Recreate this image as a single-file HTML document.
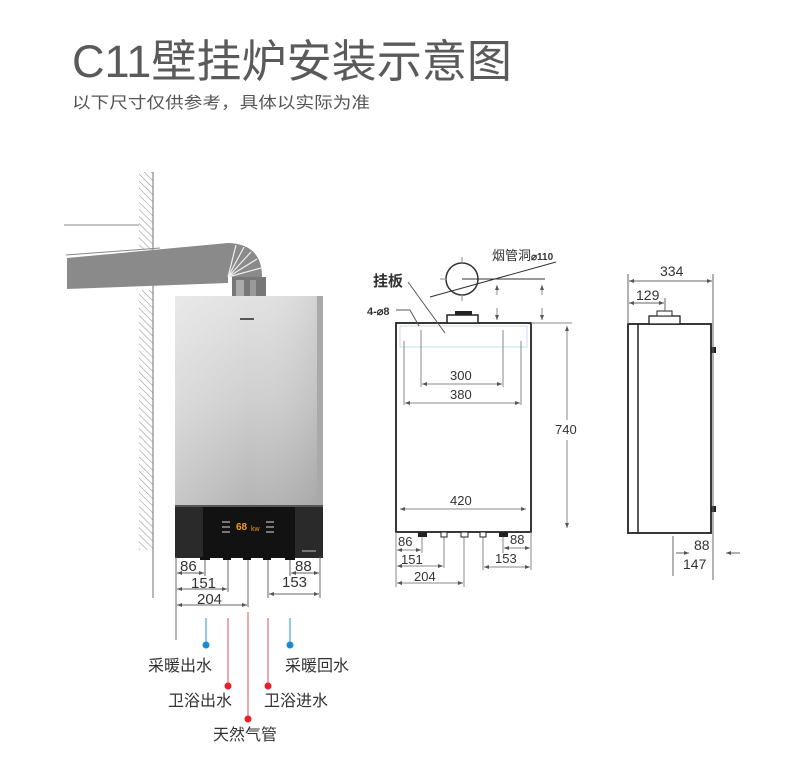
<!DOCTYPE html>
<html><head><meta charset="utf-8"><style>
html,body{margin:0;padding:0;background:#fff;}
svg{display:block;}
text{font-family:"Liberation Sans","Noto Sans CJK SC",sans-serif;}
</style></head><body>
<svg width="790" height="778" viewBox="0 0 790 778" xmlns="http://www.w3.org/2000/svg">
<defs>
<pattern id="hatch" width="5" height="5" patternUnits="userSpaceOnUse" patternTransform="rotate(-45)">
<line x1="0" y1="0" x2="0" y2="5" stroke="#999" stroke-width="1.2"/>
</pattern>
<linearGradient id="silver" x1="0" x2="0" y1="0" y2="1">
<stop offset="0" stop-color="#e2e2e2"/><stop offset="0.5" stop-color="#cfcfcf"/><stop offset="1" stop-color="#b4b4b4"/>
</linearGradient>
<linearGradient id="silverH" x1="0" x2="1" y1="0" y2="0">
<stop offset="0" stop-color="#fff" stop-opacity="0.25"/><stop offset="0.5" stop-color="#fff" stop-opacity="0"/><stop offset="1" stop-color="#000" stop-opacity="0.08"/>
</linearGradient>
<marker id="ah" viewBox="0 0 10 10" refX="10" refY="5" markerWidth="7" markerHeight="5" orient="auto-start-reverse" markerUnits="userSpaceOnUse">
<path d="M0,1 L10,5 L0,9 z" fill="#555"/>
</marker>
</defs>

<text x="72" y="77" font-size="45" fill="#5a5a5a" textLength="440" lengthAdjust="spacingAndGlyphs">C11壁挂炉安装示意图</text>
<text x="72" y="108" font-size="16" fill="#555" textLength="298" lengthAdjust="spacingAndGlyphs">以下尺寸仅供参考，具体以实际为准</text>

<rect x="139" y="172" width="14" height="78" fill="url(#hatch)"/>
<rect x="139" y="290" width="14" height="100" fill="url(#hatch)"/>
<rect x="139" y="390" width="14" height="160" fill="url(#hatch)"/>
<line x1="153" y1="172" x2="153" y2="598" stroke="#888" stroke-width="1.2"/>
<line x1="64" y1="225" x2="139" y2="225" stroke="#888" stroke-width="1"/>
<line x1="66" y1="255" x2="160" y2="248" stroke="#888" stroke-width="1"/>
<polygon points="67,258 228,243 228,283 67,289" fill="#8a8a8a"/>
<path d="M228,243 Q262,244 262,277 L228,277 Z" fill="#8a8a8a"/>
<g stroke="#eee" stroke-width="1.2">
<line x1="228" y1="277" x2="236" y2="245"/><line x1="228" y1="277" x2="244" y2="247"/>
<line x1="228" y1="277" x2="251" y2="252"/><line x1="228" y1="277" x2="257" y2="259"/>
<line x1="228" y1="277" x2="261" y2="268"/></g>
<rect x="232" y="277" width="34" height="20" fill="#777"/>
<rect x="236" y="280" width="8" height="16" fill="#aaa"/><rect x="250" y="280" width="6" height="16" fill="#999"/>

<rect x="175" y="296" width="148" height="212" fill="url(#silver)"/>
<rect x="175" y="296" width="148" height="212" fill="url(#silverH)"/>
<rect x="317" y="296" width="6" height="260" fill="#a9a9a9"/>
<rect x="240" y="318" width="14" height="2" fill="#555"/>
<rect x="175" y="505" width="148" height="53" fill="#2a2a2a"/>
<rect x="203" y="505" width="92" height="53" fill="#121212"/>
<rect x="175" y="505" width="148" height="2" fill="#555"/>
<text x="236" y="530" font-size="10" font-weight="bold" fill="#f39a1c">68</text>
<text x="251" y="531" font-size="7" fill="#f39a1c">kw</text>
<g fill="#777"><rect x="222" y="521" width="8" height="2"/><rect x="222" y="526" width="8" height="2"/><rect x="222" y="531" width="8" height="2"/>
<rect x="266" y="521" width="8" height="2"/><rect x="266" y="526" width="8" height="2"/><rect x="266" y="531" width="8" height="2"/></g>
<rect x="302" y="550" width="14" height="2" fill="#777"/>
<g fill="#111"><rect x="200" y="557" width="10" height="3"/><rect x="223" y="557" width="8" height="3"/><rect x="243" y="557" width="8" height="3"/><rect x="263" y="557" width="8" height="3"/><rect x="285" y="557" width="10" height="3"/></g>

<g stroke="#666" stroke-width="1" fill="none">
<line x1="176" y1="557" x2="176" y2="640"/>
<line x1="205" y1="560" x2="205" y2="576"/>
<line x1="228" y1="560" x2="228" y2="592"/>
<line x1="248" y1="560" x2="248" y2="607"/>
<line x1="268" y1="560" x2="268" y2="598"/>
<line x1="290" y1="560" x2="290" y2="576"/>
<line x1="320" y1="557" x2="320" y2="598"/>
<line x1="177" y1="573" x2="204" y2="573" marker-start="url(#ah)" marker-end="url(#ah)"/>
<line x1="177" y1="589" x2="227" y2="589" marker-start="url(#ah)" marker-end="url(#ah)"/>
<line x1="177" y1="605" x2="247" y2="605" marker-start="url(#ah)" marker-end="url(#ah)"/>
<line x1="291" y1="573" x2="319" y2="573" marker-start="url(#ah)" marker-end="url(#ah)"/>
<line x1="269" y1="594" x2="319" y2="594" marker-start="url(#ah)" marker-end="url(#ah)"/>
</g>
<g font-size="15" fill="#333">
<text x="180" y="571">86</text><text x="191" y="588">151</text><text x="197" y="604">204</text>
<text x="295" y="571">88</text><text x="282" y="587">153</text>
</g>
<line x1="206" y1="618" x2="206" y2="642" stroke="#4aa3d8" stroke-width="1.2"/><circle cx="206" cy="645" r="3.5" fill="#1a8ad4"/>
<line x1="290" y1="618" x2="290" y2="642" stroke="#4aa3d8" stroke-width="1.2"/><circle cx="290" cy="645" r="3.5" fill="#1a8ad4"/>
<line x1="228" y1="618" x2="228" y2="684" stroke="#e07070" stroke-width="1.2"/><circle cx="228" cy="686" r="3.5" fill="#e8202a"/>
<line x1="268" y1="618" x2="268" y2="684" stroke="#e07070" stroke-width="1.2"/><circle cx="268" cy="686" r="3.5" fill="#e8202a"/>
<line x1="248" y1="612" x2="248" y2="716" stroke="#e07070" stroke-width="1.2"/><circle cx="248" cy="719" r="3.5" fill="#e8202a"/>
<g font-size="16" fill="#333">
<text x="148" y="671">采暖出水</text><text x="285" y="671">采暖回水</text>
<text x="168" y="706">卫浴出水</text><text x="264" y="706">卫浴进水</text>
<text x="213" y="740">天然气管</text>
</g>

<rect x="396" y="323" width="135" height="209" fill="none" stroke="#222" stroke-width="1.8"/>
<rect x="447" y="315" width="31" height="8" fill="#fff" stroke="#222" stroke-width="1.5"/>
<rect x="455" y="311" width="17" height="4" fill="#222"/>
<rect x="400" y="326" width="127" height="21" fill="none" stroke="#bcd6e6" stroke-width="0.8"/>
<circle cx="462" cy="279" r="16" fill="none" stroke="#333" stroke-width="1.5"/>
<g stroke="#888" stroke-width="1" fill="none">
<line x1="462" y1="257" x2="462" y2="264"/><line x1="462" y1="294" x2="462" y2="301"/>
<line x1="440" y1="279" x2="447" y2="279"/>
<line x1="430" y1="297" x2="556" y2="262" stroke="#333"/>
<line x1="462" y1="279" x2="545" y2="279" stroke="#333"/>
<line x1="497" y1="295" x2="497" y2="285" marker-end="url(#ah)"/>
<line x1="542" y1="295" x2="542" y2="285" marker-end="url(#ah)"/>
<line x1="497" y1="308" x2="497" y2="320" marker-end="url(#ah)"/>
<line x1="542" y1="308" x2="542" y2="320" marker-end="url(#ah)"/>
<line x1="531" y1="323" x2="572" y2="323"/>
<line x1="408" y1="282" x2="445" y2="333" stroke="#555"/>
<line x1="396" y1="310" x2="410" y2="310" stroke="#555"/><line x1="410" y1="310" x2="419" y2="326" stroke="#555"/>
<line x1="421" y1="330" x2="421" y2="387"/><line x1="503" y1="330" x2="503" y2="387"/>
<line x1="404" y1="341" x2="404" y2="405"/><line x1="521" y1="341" x2="521" y2="405"/>
<line x1="422" y1="384" x2="502" y2="384" marker-start="url(#ah)" marker-end="url(#ah)"/>
<line x1="405" y1="403" x2="520" y2="403" marker-start="url(#ah)" marker-end="url(#ah)"/>
<line x1="400" y1="509" x2="526" y2="509" marker-start="url(#ah)" marker-end="url(#ah)"/>
<line x1="567" y1="326" x2="567" y2="420" marker-start="url(#ah)"/>
<line x1="567" y1="440" x2="567" y2="528" marker-end="url(#ah)"/>
<line x1="396" y1="532" x2="396" y2="587"/>
<line x1="422" y1="537" x2="422" y2="553"/>
<line x1="444" y1="537" x2="444" y2="568"/>
<line x1="464" y1="537" x2="464" y2="587"/>
<line x1="483" y1="537" x2="483" y2="570"/>
<line x1="503" y1="537" x2="503" y2="553"/>
<line x1="531" y1="532" x2="531" y2="570"/>
<line x1="397" y1="550" x2="421" y2="550" marker-start="url(#ah)" marker-end="url(#ah)"/>
<line x1="397" y1="566" x2="443" y2="566" marker-start="url(#ah)" marker-end="url(#ah)"/>
<line x1="397" y1="583" x2="463" y2="583" marker-start="url(#ah)" marker-end="url(#ah)"/>
<line x1="504" y1="548" x2="530" y2="548" marker-start="url(#ah)" marker-end="url(#ah)"/>
<line x1="484" y1="567" x2="530" y2="567" marker-start="url(#ah)" marker-end="url(#ah)"/>
</g>
<g fill="#222"><rect x="418" y="532" width="9" height="5"/><rect x="499" y="532" width="9" height="5"/></g>
<g fill="#fff" stroke="#222" stroke-width="1"><rect x="441" y="532" width="6" height="5"/><rect x="461" y="532" width="7" height="5"/><rect x="480" y="532" width="6" height="5"/></g>
<text x="492" y="260" font-size="13" fill="#333">烟管洞</text>
<text x="531" y="260" font-size="10" font-weight="bold" fill="#333">⌀110</text>
<text x="373" y="286" font-size="15" font-weight="bold" fill="#333">挂板</text>
<text x="367" y="315" font-size="11" font-weight="bold" fill="#333">4-⌀8</text>
<g font-size="13" fill="#333">
<text x="450" y="380">300</text><text x="450" y="399">380</text><text x="450" y="505">420</text>
<text x="555" y="434">740</text>
<text x="398" y="546">86</text><text x="401" y="564">151</text><text x="414" y="581">204</text>
<text x="510" y="544">88</text><text x="495" y="563">153</text>
</g>

<rect x="628" y="324" width="83" height="209" fill="none" stroke="#222" stroke-width="1.8"/>
<line x1="638" y1="324" x2="638" y2="533" stroke="#222" stroke-width="1.5"/>
<rect x="649" y="316" width="31" height="8" fill="#fff" stroke="#222" stroke-width="1.3"/>
<rect x="657" y="311" width="15" height="5" fill="#fff" stroke="#222" stroke-width="1"/>
<g fill="#222"><rect x="711" y="347" width="5" height="6"/><rect x="711" y="506" width="5" height="6"/></g>
<g stroke="#666" stroke-width="1" fill="none">
<line x1="665" y1="298" x2="665" y2="311"/>
<line x1="628" y1="274" x2="628" y2="324"/>
<line x1="713" y1="274" x2="713" y2="580"/>
<line x1="673" y1="536" x2="673" y2="576"/>
<line x1="629" y1="281" x2="712" y2="281" marker-start="url(#ah)" marker-end="url(#ah)"/>
<line x1="629" y1="303" x2="664" y2="303" marker-start="url(#ah)" marker-end="url(#ah)"/>
<line x1="676" y1="553" x2="689" y2="553" marker-end="url(#ah)"/>
<line x1="740" y1="553" x2="726" y2="553" marker-end="url(#ah)"/>
</g>
<g font-size="14" fill="#333">
<text x="660" y="276">334</text><text x="636" y="300">129</text>
<text x="694" y="550">88</text><text x="683" y="569">147</text>
</g>
</svg>
</body></html>
